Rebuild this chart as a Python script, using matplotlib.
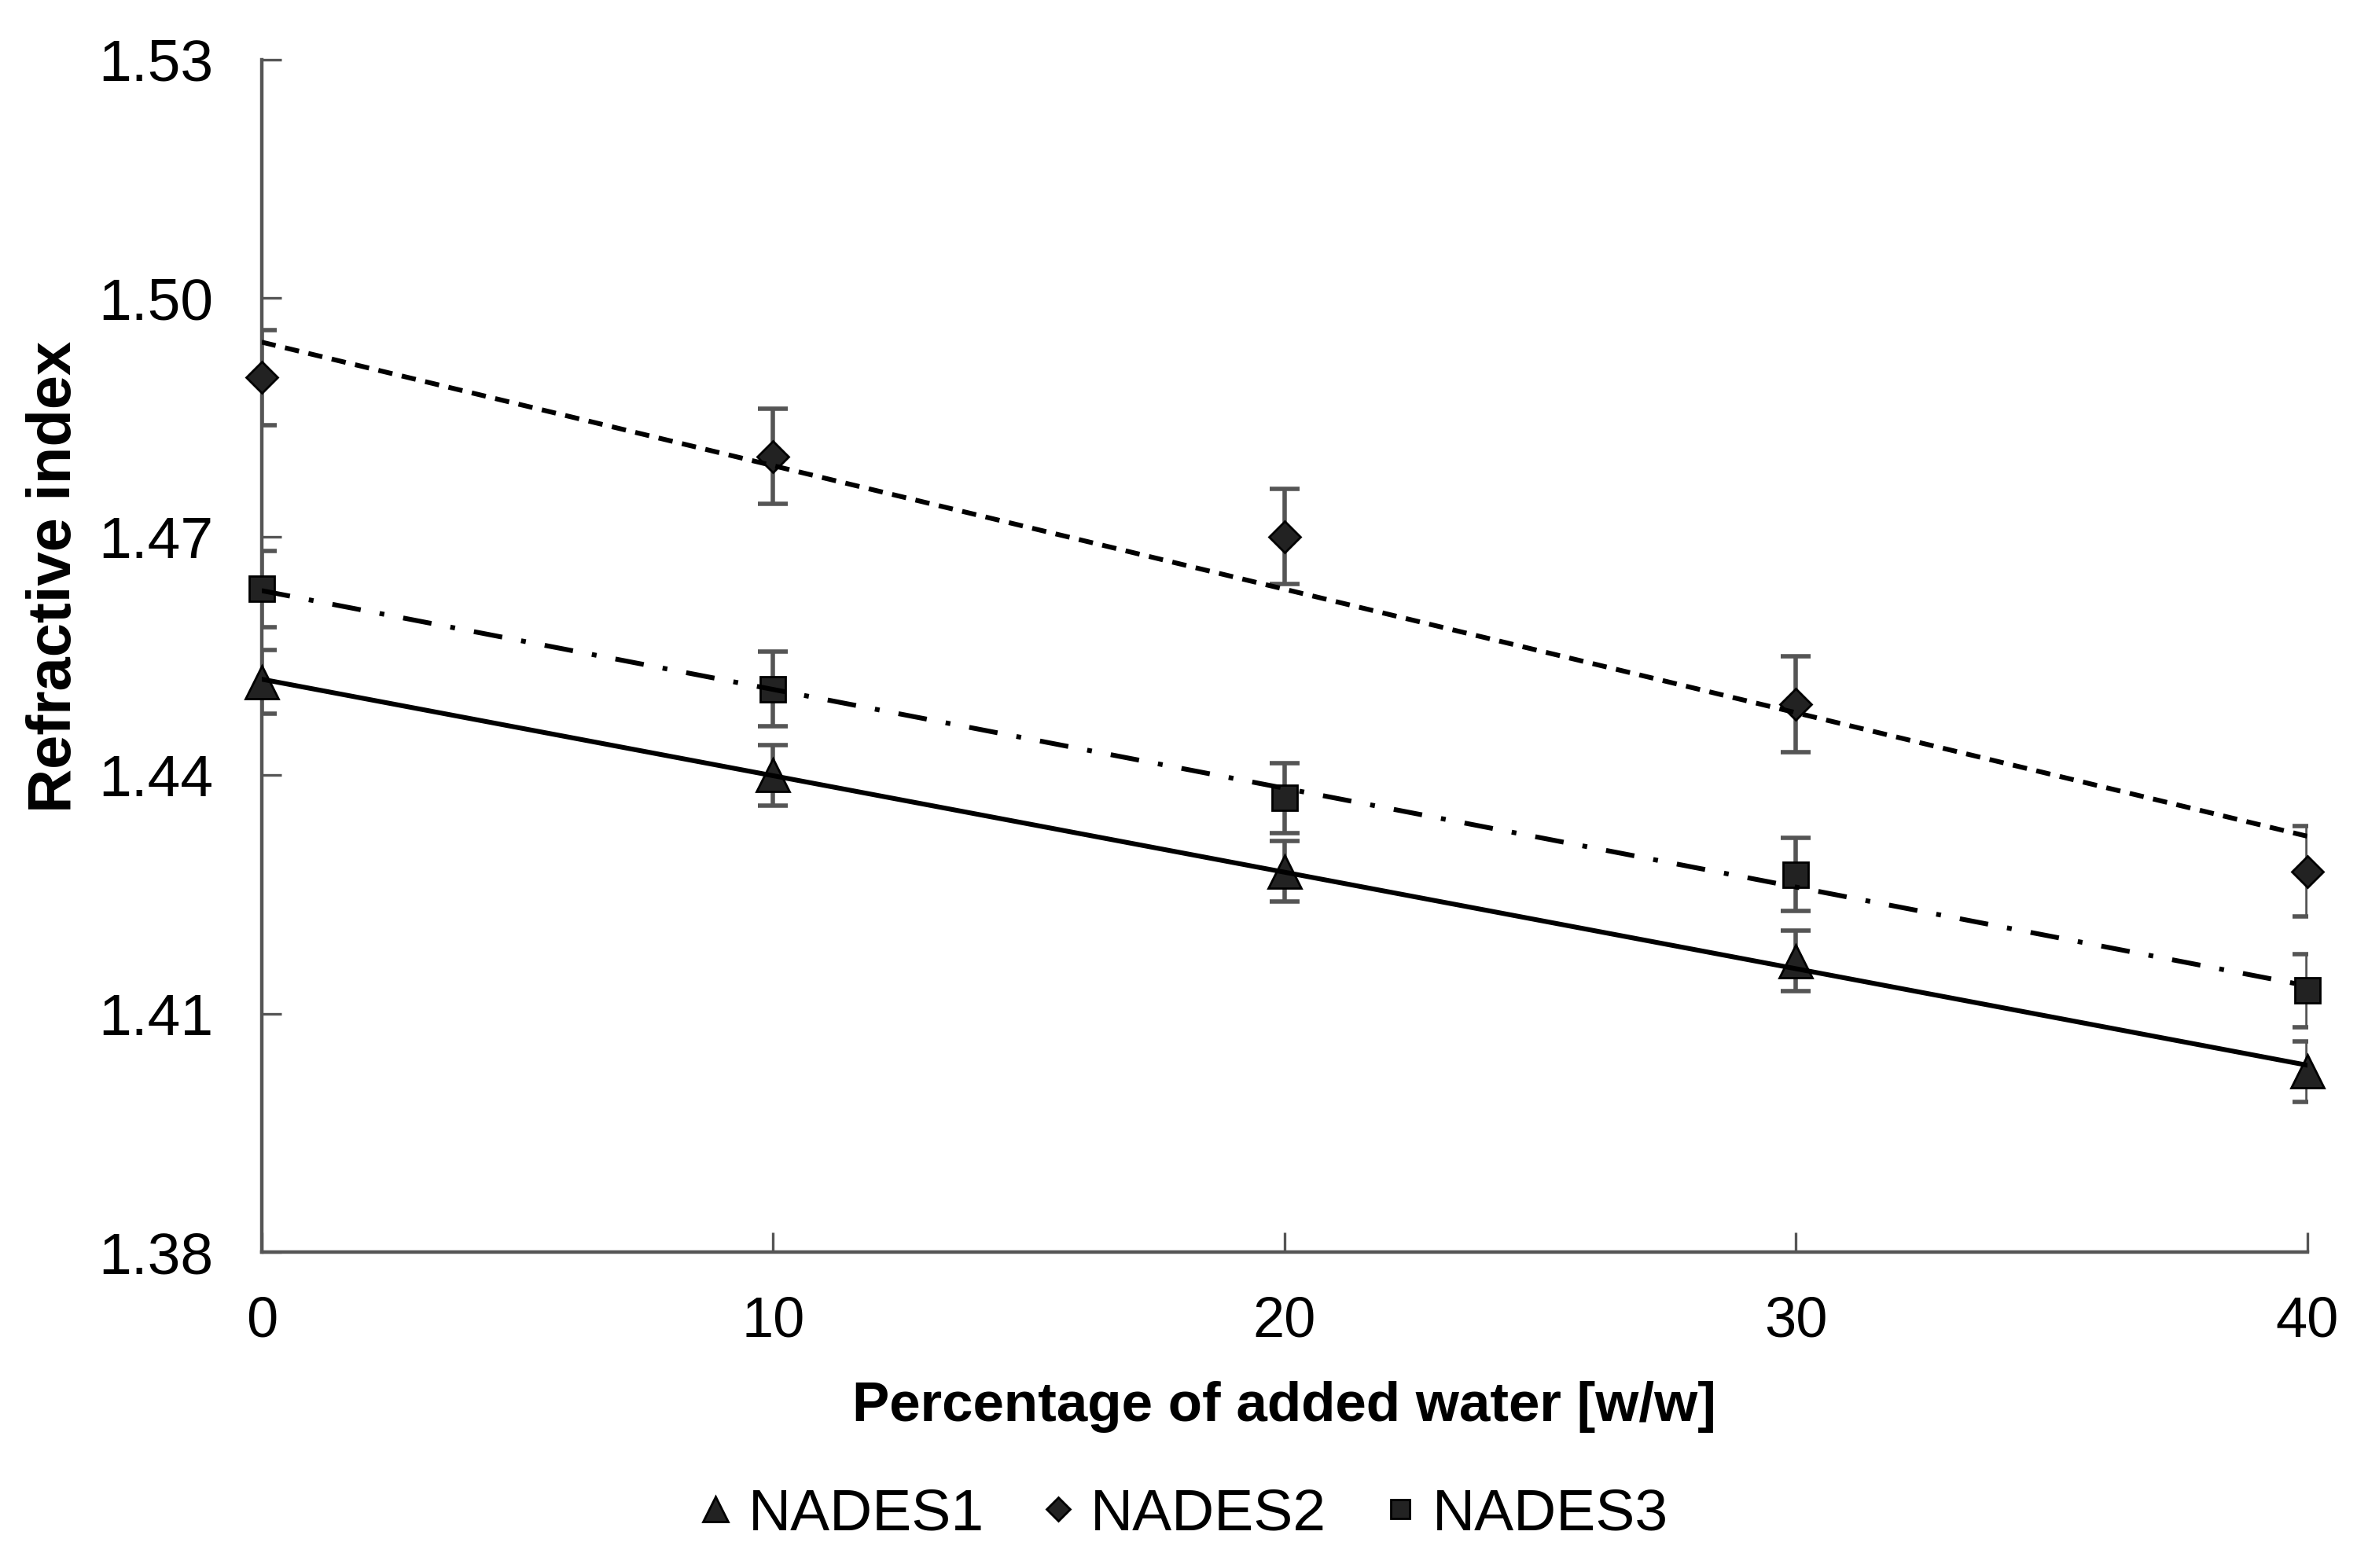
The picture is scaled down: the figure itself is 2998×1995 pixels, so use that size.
import numpy as np
import matplotlib
matplotlib.use('Agg')
import matplotlib.pyplot as plt

plt.rcParams['font.family'] = ['Liberation Sans', 'DejaVu Sans']

water = [0, 10, 20, 30, 40]

nades1 = [1.4517, 1.4400, 1.4279, 1.4166, 1.4027]
nades1_err = [0.0040, 0.0038, 0.0038, 0.0038, 0.0038]

nades2 = [1.4900, 1.4801, 1.4700, 1.4489, 1.4279]
nades2_err = [0.0060, 0.0060, 0.0060, 0.0060, 0.0057]

nades3 = [1.4634, 1.4508, 1.4371, 1.4275, 1.4129]
nades3_err = [0.0048, 0.0047, 0.0044, 0.0046, 0.0046]

series = [
    ('NADES1', nades1, nades1_err, '^', 15, '-'),
    ('NADES2', nades2, nades2_err, 'D', 10, (0, (3.0, 2.0))),
    ('NADES3', nades3, nades3_err, 's', 11.5, (0, (6.0, 4.0, 1.0, 4.0))),
]

fig = plt.figure(figsize=(14.99, 9.975), dpi=200)
ax = fig.add_axes([0.111, 0.2015, 0.868, 0.7605])

xs = np.array(water, dtype=float)
handles = []
for name, vals, err, mk, ms, ls in series:
    # linear trend line through the points
    k, b = np.polyfit(xs, vals, 1)
    ax.plot([xs[0], xs[-1]], [b + k * xs[0], b + k * xs[-1]],
            color='black', linewidth=2.2, linestyle=ls, zorder=5)
    ax.errorbar(xs, vals, yerr=err, fmt='none', ecolor='#555555',
                elinewidth=2.0, capsize=7, capthick=2.0, zorder=3)
    h, = ax.plot(xs, vals, linestyle='none', marker=mk, markersize=ms,
                 markerfacecolor='#222222', markeredgecolor='black',
                 markeredgewidth=1.0, zorder=4, label=name, clip_on=False)
    handles.append(h)

ax.set_xlim(0, 40)
ax.set_ylim(1.38, 1.53)
ax.set_xticks(water)
ax.set_yticks([1.38, 1.41, 1.44, 1.47, 1.50, 1.53])
ax.set_yticklabels(['1.38', '1.41', '1.44', '1.47', '1.50', '1.53'])

for s in ['top', 'right']:
    ax.spines[s].set_visible(False)
for s in ['left', 'bottom']:
    ax.spines[s].set_color('#555555')
    ax.spines[s].set_linewidth(1.6)

ax.tick_params(axis='both', direction='in', length=9, width=1.2,
               color='#555555', labelcolor='black')
ax.tick_params(axis='y', pad=22, labelsize=27)
ax.tick_params(axis='x', pad=20, labelsize=26)

ax.set_xlabel('Percentage of added water [w/w]', fontsize=25.5,
              fontweight='bold', labelpad=15)
ax.set_ylabel('Refractive index', fontsize=28, fontweight='bold')
ax.yaxis.set_label_coords(-0.087, 0.566)

fig.legend(handles=handles, loc='center', bbox_to_anchor=(0.502, 0.034),
           ncol=3, frameon=False, handlelength=0.6,
           handletextpad=0.25, columnspacing=0.95, markerscale=0.75,
           prop={'size': 27})

fig.savefig('out.png', dpi=200)
